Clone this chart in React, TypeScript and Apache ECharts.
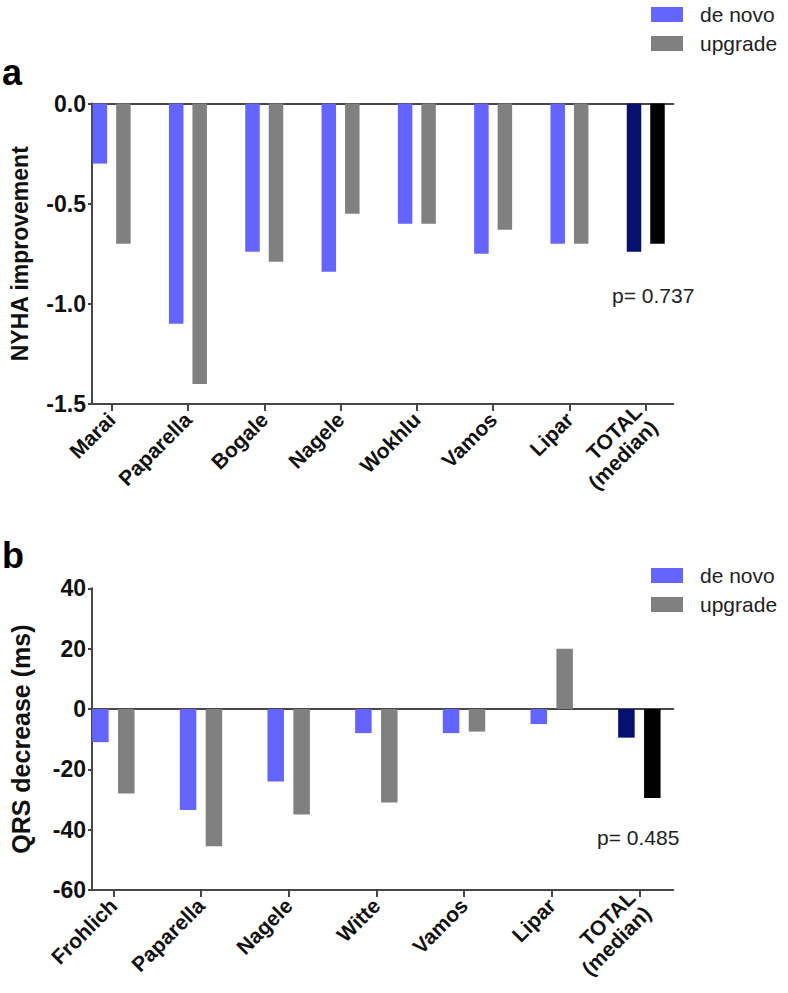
import React, { useEffect, useRef } from "react";
import * as echarts from "echarts";

const NYHA_CATEGORIES = ["Marai", "Paparella", "Bogale", "Nagele", "Wokhlu", "Vamos", "Lipar", "TOTAL\n(median)"];
const NYHA_DENOVO = [-0.3, -1.1, -0.74, -0.84, -0.6, -0.75, -0.7, -0.74];
const NYHA_UPGRADE = [-0.7, -1.4, -0.79, -0.55, -0.6, -0.63, -0.7, -0.7];
const NYHA_MIN = -1.5;
const NYHA_MAX = 0;
const NYHA_STEP = 0.5;

const QRS_CATEGORIES = ["Frohlich", "Paparella", "Nagele", "Witte", "Vamos", "Lipar", "TOTAL\n(median)"];
const QRS_DENOVO = [-11, -33.5, -24, -8, -8, -5, -9.5];
const QRS_UPGRADE = [-28, -45.5, -35, -31, -7.5, 20, -29.5];
const QRS_MIN = -60;
const QRS_MAX = 40;
const QRS_STEP = 20;

const SERIES_NAMES = ["de novo", "upgrade"];
const P_VALUES = ["p= 0.737", "p= 0.485"];

const FONT = "'Liberation Sans', Arial, Helvetica, sans-serif";
const BLUE = "#6464ff";
const GREY = "#808080";
const NAVY = "#07106e";
const BLACK = "#000000";
const AXIS = "#474747";

function withTotal(values: number[], totalColor: string) {
  return values.map((v, i) =>
    i === values.length - 1 ? { value: v, itemStyle: { color: totalColor } } : v
  );
}

export default function App() {
  const ref = useRef<HTMLDivElement>(null);
  useEffect(() => {
    if (!ref.current) return;
    const chart = echarts.init(ref.current, undefined, { renderer: "svg" });

    const catAxis = (gridIndex: number, data: string[]) => ({
      type: "category",
      gridIndex,
      data,
      position: "bottom",
      boundaryGap: true,
      axisLine: { show: false, onZero: false },
      axisTick: { show: true, alignWithLabel: true, length: 7, lineStyle: { color: AXIS, width: 2 } },
      axisLabel: {
        rotate: 45,
        margin: 12,
        fontFamily: FONT,
        fontWeight: "bold",
        fontSize: 21,
        color: "#111",
        lineHeight: 22,
      },
      splitLine: { show: false },
    });
    const lineAxis = (gridIndex: number, position: string, onZero: boolean) => ({
      type: "value",
      gridIndex,
      min: 0,
      max: 1,
      position,
      axisLine: { show: true, onZero, lineStyle: { color: AXIS, width: 2 } },
      axisTick: { show: false },
      axisLabel: { show: false },
      splitLine: { show: false },
    });
    const hiddenY = (gridIndex: number, min: number, max: number) => ({
      type: "value",
      gridIndex,
      min,
      max,
      show: false,
      splitLine: { show: false },
    });
    const shownY = (
      gridIndex: number,
      min: number,
      max: number,
      step: number,
      name: string,
      nameSize: number,
      nameGap: number,
      fmt: (v: number) => string
    ) => ({
      type: "value",
      gridIndex,
      min,
      max,
      interval: step,
      name,
      nameLocation: "middle",
      nameGap,
      nameTextStyle: { fontFamily: FONT, fontWeight: "bold", fontSize: nameSize, color: "#111" },
      axisLine: { show: true, onZero: false, lineStyle: { color: AXIS, width: 2 } },
      axisTick: { show: true, length: 4, lineStyle: { color: AXIS, width: 2 } },
      axisLabel: { margin: 6, fontFamily: FONT, fontWeight: "bold", fontSize: 23, color: "#111", formatter: fmt },
      splitLine: { show: false },
    });

    const legend = (top: number) => ({
      data: SERIES_NAMES,
      orient: "vertical",
      left: 646,
      top,
      itemWidth: 32,
      itemHeight: 15,
      itemGap: 8,
      icon: "rect",
      selectedMode: false,
      textStyle: { fontFamily: FONT, fontSize: 21, color: "#222", padding: [0, 0, 0, 12] },
    });

    const option = {
      animation: false,
      backgroundColor: "#ffffff",
      grid: [
        { left: 73.5, top: 103.5, width: 610.4, height: 300.5 },
        { left: 82.7, top: 103.5, width: 590.6, height: 300.5 },
        { left: 69.5, top: 588.3, width: 613.7, height: 301.7 },
        { left: 82.7, top: 588.3, width: 590.6, height: 301.7 },
      ],
      xAxis: [
        catAxis(0, NYHA_CATEGORIES),
        lineAxis(1, "bottom", false),
        lineAxis(1, "top", true),
        catAxis(2, QRS_CATEGORIES),
        lineAxis(3, "bottom", false),
        lineAxis(3, "top", true),
      ],
      yAxis: [
        hiddenY(0, NYHA_MIN, NYHA_MAX),
        shownY(1, NYHA_MIN, NYHA_MAX, NYHA_STEP, "NYHA improvement", 23, 61, (v: number) => v.toFixed(1)),
        hiddenY(2, QRS_MIN, QRS_MAX),
        shownY(3, QRS_MIN, QRS_MAX, QRS_STEP, "QRS decrease (ms)", 25, 59, (v: number) => String(v)),
      ],
      legend: [legend(-1), legend(560)],
      series: [
        {
          name: SERIES_NAMES[0],
          type: "bar",
          xAxisIndex: 0,
          yAxisIndex: 0,
          barWidth: 14.5,
          barGap: "62%",
          itemStyle: { color: BLUE },
          data: withTotal(NYHA_DENOVO, NAVY),
        },
        {
          name: SERIES_NAMES[1],
          type: "bar",
          xAxisIndex: 0,
          yAxisIndex: 0,
          barWidth: 14.5,
          barGap: "62%",
          itemStyle: { color: GREY },
          data: withTotal(NYHA_UPGRADE, BLACK),
        },
        {
          name: SERIES_NAMES[0],
          type: "bar",
          xAxisIndex: 3,
          yAxisIndex: 2,
          barWidth: 16.5,
          barGap: "57%",
          itemStyle: { color: BLUE },
          data: withTotal(QRS_DENOVO, NAVY),
        },
        {
          name: SERIES_NAMES[1],
          type: "bar",
          xAxisIndex: 3,
          yAxisIndex: 2,
          barWidth: 16.5,
          barGap: "57%",
          itemStyle: { color: GREY },
          data: withTotal(QRS_UPGRADE, BLACK),
        },
      ],
      graphic: [
        { type: "text", x: 2, y: 72, style: { text: "a", font: `bold 36px ${FONT}`, fill: "#000", verticalAlign: "middle" } },
        { type: "text", x: 2, y: 555, style: { text: "b", font: `bold 36px ${FONT}`, fill: "#000", verticalAlign: "middle" } },
        { type: "text", x: 612, y: 295, style: { text: P_VALUES[0], font: `21px ${FONT}`, fill: "#222", verticalAlign: "middle" } },
        { type: "text", x: 597, y: 837, style: { text: P_VALUES[1], font: `21px ${FONT}`, fill: "#222", verticalAlign: "middle" } },
      ],
    };
    chart.setOption(option as any);
    return () => chart.dispose();
  }, []);
  return (
    <div
      ref={ref}
      style={{ position: "fixed", left: 0, top: 0, width: 788, height: 993, background: "#fff" }}
    />
  );
}
